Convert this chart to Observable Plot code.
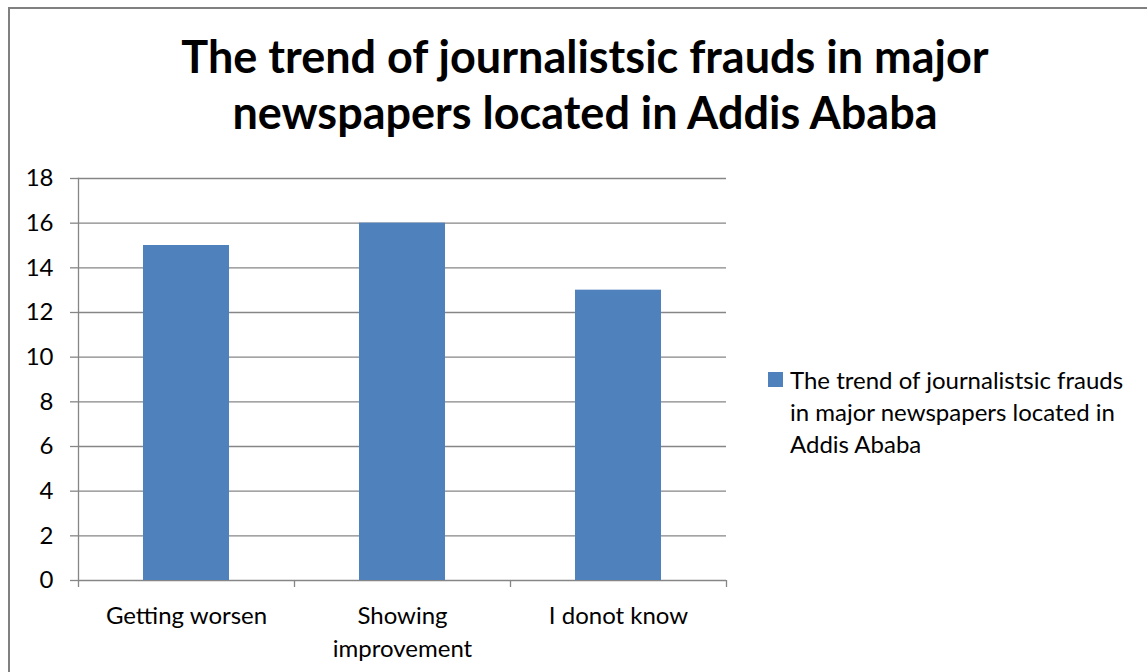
<!DOCTYPE html>
<html>
<head>
<meta charset="utf-8">
<script src="https://cdn.jsdelivr.net/npm/d3@7"></script>
<script src="https://cdn.jsdelivr.net/npm/@observablehq/plot@0.6"></script>
<style>
  html, body { margin: 0; padding: 0; background: #fff; }
  #wrap { position: relative; width: 1147px; height: 672px; overflow: hidden; font-family: Lato, "Open Sans", sans-serif; }
  #border { position: absolute; left: 8px; top: 7px; width: 1200px; height: 700px; border-left: 2px solid #808080; border-top: 2px solid #808080; }
  #title { position: absolute; left: 85px; width: 1000px; top: 28px; text-align: center; font-weight: bold; font-size: 45px; line-height: 56px; color: #000; }
  #legend { position: absolute; left: 768px; top: 364px; font-size: 24px; line-height: 32px; color: #000; }
  #legend .sw { position: absolute; left: 0; top: 8px; width: 15px; height: 15px; background: #4F81BD; }
  #legend .txt { position: absolute; left: 22px; top: 0; width: 370px; white-space: nowrap; }
  #chart { position: absolute; left: 0; top: 0; }
</style>
</head>
<body>
<div id="wrap">
  <div id="chart"></div>
  <div id="border"></div>
  <div id="title">The trend of journalistsic frauds in major<br>newspapers located in Addis Ababa</div>
  <div id="legend"><div class="sw"></div><div class="txt">The trend of journalistsic frauds<br>in major newspapers located in<br>Addis Ababa</div></div>
</div>
<script>
const categories = ["Getting worsen", "Showing improvement", "I donot know"];
const values = [15, 16, 13];
const yTicks = [0, 2, 4, 6, 8, 10, 12, 14, 16, 18];
const tickLabels = {"Getting worsen": "Getting worsen", "Showing improvement": "Showing\nimprovement", "I donot know": "I donot know"};

const data = categories.map((c, i) => ({category: c, value: values[i]}));
const W = 1147, H = 672;
const mL = 78, mR = 421, mT = 178, mB = 92;
const step = (W - mL - mR) / categories.length;

const plot = Plot.plot({
  width: W,
  height: H,
  marginLeft: mL,
  marginRight: mR,
  marginTop: mT,
  marginBottom: mB,
  style: {fontFamily: "Lato, 'Open Sans', sans-serif", fontSize: "24px", color: "#000", background: "transparent"},
  x: {domain: categories, paddingInner: 0.6, paddingOuter: 0.3, align: 0.5, label: null},
  y: {domain: [0, 18], label: null},
  marks: [
    Plot.gridY(yTicks, {stroke: "#868686", strokeOpacity: 1, strokeWidth: 1.3}),
    Plot.barY(data, {x: "category", y: "value", fill: "#4F81BD"}),
    Plot.frame({anchor: "left", stroke: "#868686", strokeWidth: 1.3}),
    Plot.axisY({ticks: yTicks, tickSize: 8, tickPadding: 17, stroke: "#868686", strokeWidth: 1.3, fill: "#000", label: null, fontSize: 24}),
    Plot.axisX({tickSize: 7, dx: -step / 2, text: null, stroke: "#868686", strokeWidth: 1.3, label: null}),
    Plot.axisX({ticks: [categories[categories.length - 1]], tickSize: 7, dx: step / 2, text: null, stroke: "#868686", strokeWidth: 1.3, label: null}),
    Plot.axisX({tickSize: 0, tickPadding: 20, tickFormat: d => tickLabels[d], fill: "#000", label: null, fontSize: 24, lineHeight: 1.375})
  ]
});
document.getElementById("chart").appendChild(plot);
</script>
</body>
</html>
